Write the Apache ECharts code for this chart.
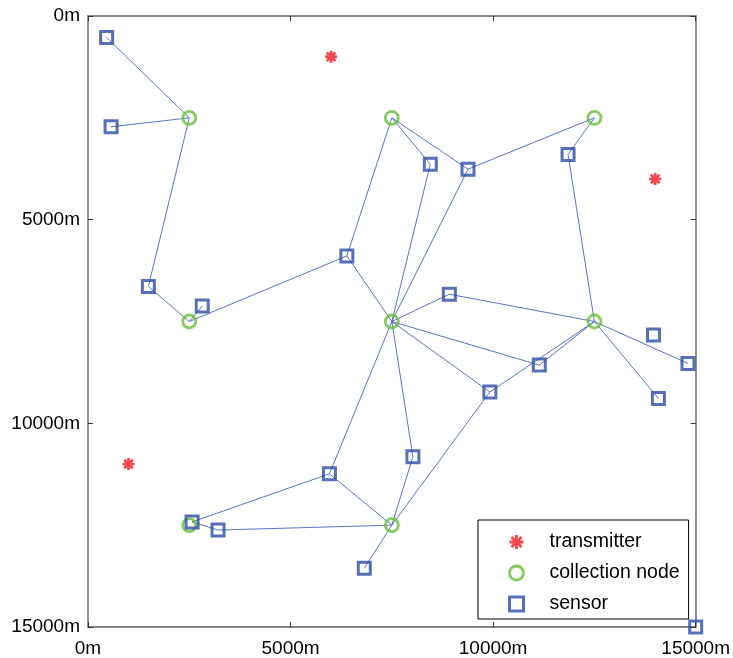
<!DOCTYPE html>
<html>
<head>
<meta charset="utf-8">
<title>Sensor network layout</title>
<script src="https://cdn.jsdelivr.net/npm/echarts@6/dist/echarts.min.js"></script>
<style>
  html, body { margin: 0; padding: 0; background: #fff; }
  #chart { width: 733px; height: 658px; }
</style>
</head>
<body>
<div id="chart"></div>
<script>
// Positions in metres (x, y), y measured downward from the top edge.
const transmitters = [[6000, 1000], [14000, 4000], [1000, 11000]];

const collectionNodes = [
  [2500, 2500], [7500, 2500], [12500, 2500],
  [2500, 7500], [7500, 7500], [12500, 7500],
  [2500, 12500], [7500, 12500]
];

const sensors = [
  [460, 530], [570, 2720], [1490, 6640], [2820, 7120], [6390, 5890],
  [8450, 3640], [9380, 3760], [11850, 3400], [8920, 6830], [11140, 8570],
  [9920, 9230], [13960, 7830], [14810, 8530], [14080, 9390], [8020, 10820],
  [5960, 11240], [6820, 13560], [2570, 12420], [3210, 12620], [15000, 15000]
];

// Radio links: 'c' = collection node index, 's' = sensor index.
const links = [
  ['s0', 'c0'], ['s1', 'c0'], ['c0', 's2'], ['s2', 'c3'], ['c3', 's3'],
  ['c3', 's4'], ['s4', 'c1'], ['s4', 'c4'], ['c1', 's5'], ['c1', 's6'],
  ['s5', 'c4'], ['s6', 'c4'], ['s6', 'c2'], ['c2', 's7'], ['s7', 'c5'],
  ['c4', 's8'], ['s8', 'c5'], ['c4', 's9'], ['s9', 'c5'], ['c4', 's10'],
  ['s10', 'c5'], ['c5', 's12'], ['c5', 's13'], ['c4', 's15'], ['c4', 's14'],
  ['s14', 'c7'], ['s15', 'c7'], ['s16', 'c7'], ['s10', 'c7'], ['s17', 's15'],
  ['s17', 's18'], ['s18', 'c7']
];

const axisTicks = [0, 5000, 10000, 15000];

function nodePos(ref) {
  const idx = parseInt(ref.slice(1), 10);
  return ref[0] === 'c' ? collectionNodes[idx] : sensors[idx];
}

const linkData = links.map(([a, b]) => ({ coords: [nodePos(a), nodePos(b)] }));

const FONT = '"Liberation Sans", Arial, Helvetica, sans-serif';
const AXIS_GREY = '#858585';
const BLUE = '#2c4ca6';
const GREEN = '#66be36';
const RED = '#ee1c25';
const ASTERISK = 'path://M0,-6L0,6M-6,0L6,0M-4.3,-4.3L4.3,4.3M-4.3,4.3L4.3,-4.3';

const mainAxisBase = {
  type: 'value',
  min: axisTicks[0],
  max: axisTicks[axisTicks.length - 1],
  interval: axisTicks[1] - axisTicks[0],
  splitLine: { show: false },
  axisLine: { show: true, onZero: false, lineStyle: { color: AXIS_GREY, width: 1.8 } },
  axisTick: { show: true, inside: true, length: 5, lineStyle: { color: '#333', width: 1 } },
  axisLabel: {
    color: '#000',
    fontFamily: FONT,
    fontSize: 19,
    formatter: v => v + 'm'
  }
};

const chart = echarts.init(document.getElementById('chart'), null, { renderer: 'canvas' });

chart.setOption({
  animation: false,
  backgroundColor: '#fff',
  grid: { left: 88, top: 16, right: 36, bottom: 31, containLabel: false },
  xAxis: [
    Object.assign({}, mainAxisBase, {
      position: 'bottom',
      axisLabel: Object.assign({}, mainAxisBase.axisLabel, { margin: 12 })
    }),
    Object.assign({}, mainAxisBase, {
      position: 'top',
      axisLabel: { show: false }
    })
  ],
  yAxis: [
    Object.assign({}, mainAxisBase, {
      inverse: true,
      position: 'left',
      axisLabel: Object.assign({}, mainAxisBase.axisLabel, { margin: 8, padding: [6, 0, 0, 0] })
    }),
    Object.assign({}, mainAxisBase, {
      inverse: true,
      position: 'right',
      axisLabel: { show: false }
    })
  ],
  legend: {
    orient: 'vertical',
    left: 478,
    top: 520,
    padding: [12, 9, 5, 30],
    itemGap: 11,
    itemWidth: 14,
    itemHeight: 14,
    backgroundColor: '#fff',
    borderColor: '#000',
    borderWidth: 1,
    borderRadius: 0,
    selectedMode: false,
    textStyle: {
      color: '#000',
      fontFamily: FONT,
      fontSize: 19.5,
      lineHeight: 20,
      padding: [0, 0, 0, 21]
    },
    data: [
      { name: 'transmitter', icon: ASTERISK,
        itemStyle: { color: 'rgba(0,0,0,0)', borderColor: RED, borderWidth: 2.8 } },
      { name: 'collection node', icon: 'circle',
        itemStyle: { color: 'rgba(0,0,0,0)', borderColor: GREEN, borderWidth: 2.8 } },
      { name: 'sensor', icon: 'rect',
        itemStyle: { color: 'rgba(0,0,0,0)', borderColor: BLUE, borderWidth: 3 } }
    ]
  },
  series: [
    {
      type: 'lines',
      coordinateSystem: 'cartesian2d',
      silent: true,
      z: 1,
      lineStyle: { color: '#3a5cb6', width: 0.85, opacity: 1 },
      data: linkData
    },
    {
      name: 'transmitter',
      type: 'scatter',
      silent: true,
      z: 3,
      symbol: ASTERISK,
      symbolSize: 12,
      itemStyle: { color: 'rgba(0,0,0,0)', borderColor: RED, borderWidth: 2.8 },
      data: transmitters
    },
    {
      name: 'collection node',
      type: 'scatter',
      silent: true,
      z: 3,
      symbol: 'circle',
      symbolSize: 13,
      itemStyle: { color: 'rgba(0,0,0,0)', borderColor: GREEN, borderWidth: 2.8 },
      data: collectionNodes
    },
    {
      name: 'sensor',
      type: 'scatter',
      silent: true,
      z: 3,
      symbol: 'rect',
      symbolSize: 12,
      itemStyle: { color: 'rgba(0,0,0,0)', borderColor: BLUE, borderWidth: 3 },
      data: sensors
    }
  ]
});
</script>
</body>
</html>
